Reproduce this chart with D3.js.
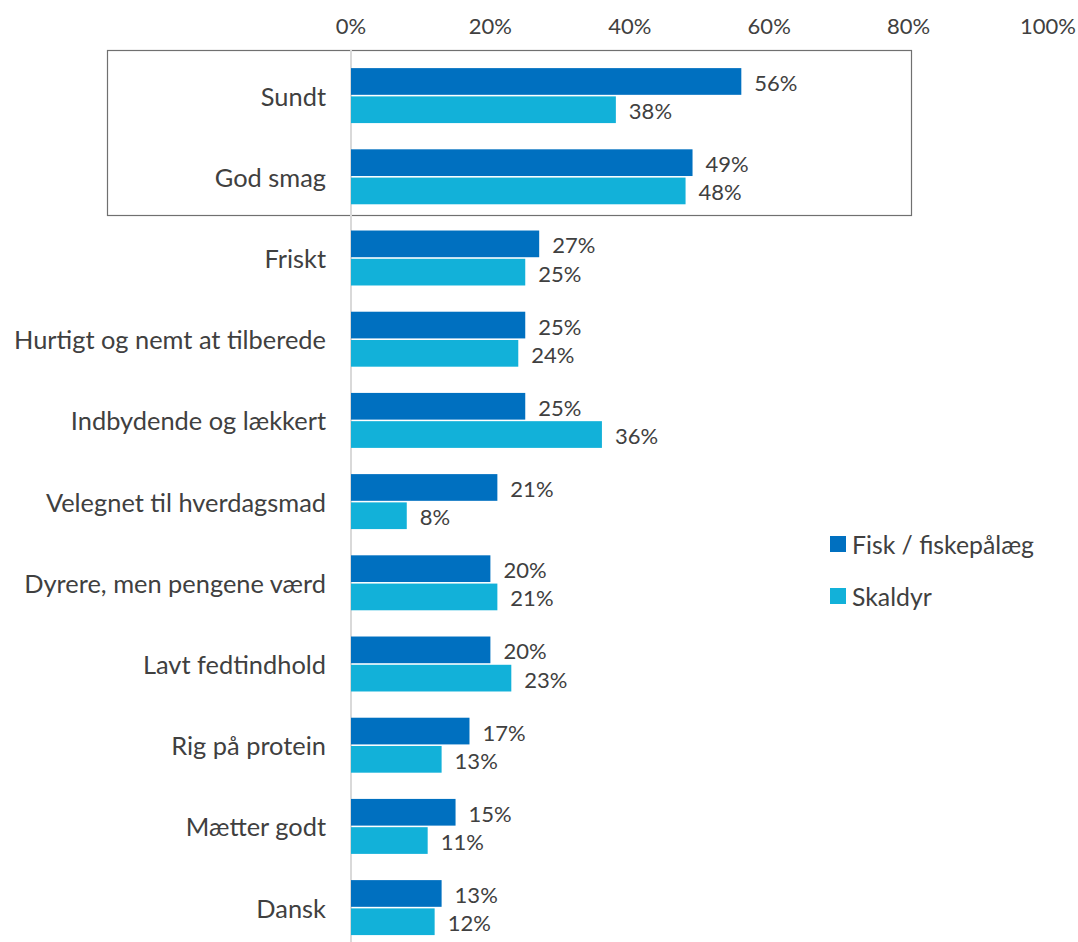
<!DOCTYPE html>
<html>
<head>
<meta charset="utf-8">
<script src="https://cdn.jsdelivr.net/npm/d3@7"></script>
<style>
  body { margin: 0; background: #fff; }
  text { font-family: Lato, "Open Sans", sans-serif; fill: #404040; }
</style>
</head>
<body>
<div id="chart"></div>
<script>
var categories = ["Sundt", "God smag", "Friskt", "Hurtigt og nemt at tilberede", "Indbydende og lækkert",
  "Velegnet til hverdagsmad", "Dyrere, men pengene værd", "Lavt fedtindhold", "Rig på protein",
  "Mætter godt", "Dansk"];
var series = ["Fisk / fiskepålæg", "Skaldyr"];
var fisk = [56, 49, 27, 25, 25, 21, 20, 20, 17, 15, 13];
var skaldyr = [38, 48, 25, 24, 36, 8, 21, 23, 13, 11, 12];
var ticks = [0, 20, 40, 60, 80, 100];

var width = 1078, height = 942;
var svg = d3.select("#chart").append("svg")
    .attr("width", width)
    .attr("height", height)

var color = d3.scaleOrdinal().domain(series).range(["#0070c0", "#12b1d9"])

var x = d3.scaleLinear().domain([0, 100]).range([351, 1048])
var y = d3.scaleBand().domain(categories).range([55, 948.2]).paddingInner(0.323).paddingOuter(0.1615)
var ySub = d3.scaleBand().domain(series).range([0, y.bandwidth()]).paddingInner(0.055)

var rows = categories.map(function(c, i) {
  return { cat: c, values: [{ s: series[0], v: fisk[i] }, { s: series[1], v: skaldyr[i] }] }
})

// highlight box round the top two categories
svg.append("rect")
    .attr("x", 107.5)
    .attr("y", 50.5)
    .attr("width", 804)
    .attr("height", 165)
    .style("fill", "none")
    .style("stroke", "#707070")
    .style("stroke-width", 1.2)

// vertical zero line
svg.append("line")
    .attr("x1", x(0)).attr("x2", x(0))
    .attr("y1", 50).attr("y2", height)
    .style("stroke", "#d9d9d9")
    .style("stroke-width", 2)

// top axis tick labels
svg.selectAll("tick")
    .data(ticks)
    .enter()
    .append("text")
    .attr("x", function(d) { return x(d) })
    .attr("y", 25)
    .attr("text-anchor", "middle")
    .attr("dominant-baseline", "central")
    .style("font-size", "22px")
    .text(function(d) { return d + "%" })

var groups = svg.selectAll("g.row")
    .data(rows)
    .enter()
    .append("g")
    .attr("class", "row")
    .attr("transform", function(d) { return "translate(0," + y(d.cat) + ")" })

groups.append("text")
    .attr("x", 326)
    .attr("y", y.bandwidth() / 2)
    .attr("text-anchor", "end")
    .attr("dominant-baseline", "central")
    .style("font-size", "25.4px")
    .text(function(d) { return d.cat })

groups.selectAll("rect")
    .data(function(d) { return d.values })
    .enter()
    .append("rect")
    .attr("x", x(0))
    .attr("y", function(d) { return ySub(d.s) })
    .attr("width", function(d) { return x(d.v) - x(0) })
    .attr("height", ySub.bandwidth())
    .style("fill", function(d) { return color(d.s) })

groups.selectAll("text.val")
    .data(function(d) { return d.values })
    .enter()
    .append("text")
    .attr("class", "val")
    .attr("x", function(d) { return x(d.v) + 13 })
    .attr("y", function(d) { return ySub(d.s) + ySub.bandwidth() / 2 + 1 })
    .attr("dominant-baseline", "central")
    .style("font-size", "22px")
    .text(function(d) { return d.v + "%" })

// legend
var legend = svg.append("g").attr("transform", "translate(830,536)")
legend.selectAll("rect")
    .data(series)
    .enter()
    .append("rect")
    .attr("x", 0)
    .attr("y", function(d, i) { return i * 52 })
    .attr("width", 16)
    .attr("height", 16)
    .style("fill", function(d) { return color(d) })
legend.selectAll("text")
    .data(series)
    .enter()
    .append("text")
    .attr("x", 22)
    .attr("y", function(d, i) { return i * 52 + 8 })
    .attr("dominant-baseline", "central")
    .style("font-size", "24.8px")
    .text(function(d) { return d })
</script>
</body>
</html>
